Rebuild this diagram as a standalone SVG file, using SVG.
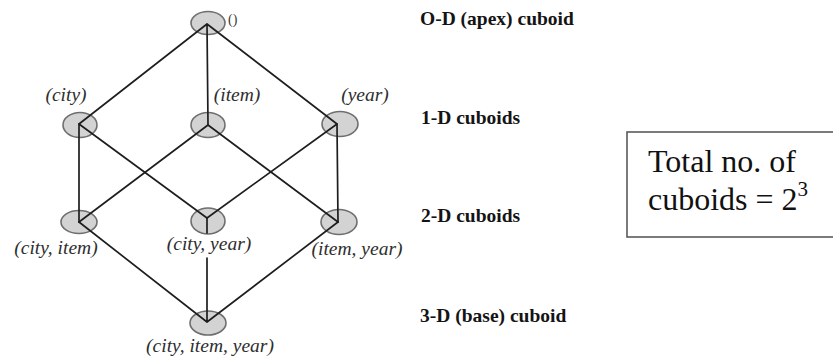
<svg xmlns="http://www.w3.org/2000/svg" width="833" height="356" viewBox="0 0 833 356">
  <style>
    .cell { fill: #d3d3d3; stroke: #6e6e6e; stroke-width: 1.6; }
    .edge { fill: none; stroke: #1e1e1e; stroke-width: 1.7; stroke-linecap: round; }
    .dim { font-style: italic; font-size: 19.5px; fill: #2e2e2e; text-anchor: middle; }
    .level { font-weight: bold; font-size: 19.5px; fill: #141414; }
    .note { font-size: 32px; fill: #111; }
  </style>
  <rect width="833" height="356" fill="#ffffff"/>

  <!-- lattice cells -->
  <g id="apex">
    <ellipse class="cell" cx="208" cy="23" rx="17" ry="11.5"/>
    <text font-family="Liberation Serif, serif" x="228" y="24" font-size="14" fill="#3a3a3a">()</text>
  </g>
  <g id="city">
    <ellipse class="cell" cx="80" cy="125" rx="17" ry="12.5"/>
    <text font-family="Liberation Serif, serif" class="dim" x="66" y="101">(city)</text>
  </g>
  <g id="item">
    <ellipse class="cell" cx="208" cy="125" rx="17" ry="12.5"/>
    <text font-family="Liberation Serif, serif" class="dim" x="237" y="101">(item)</text>
  </g>
  <g id="year">
    <ellipse class="cell" cx="340" cy="124" rx="18" ry="12.5"/>
    <text font-family="Liberation Serif, serif" class="dim" x="365" y="101">(year)</text>
  </g>
  <g id="city-item">
    <ellipse class="cell" cx="79" cy="222" rx="18" ry="11.5"/>
    <text font-family="Liberation Serif, serif" class="dim" x="56" y="254">(city, item)</text>
  </g>
  <g id="city-year">
    <ellipse class="cell" cx="208" cy="221" rx="17" ry="13"/>
    <text font-family="Liberation Serif, serif" class="dim" x="209" y="250">(city, year)</text>
  </g>
  <g id="item-year">
    <ellipse class="cell" cx="339" cy="222" rx="18" ry="12.5"/>
    <text font-family="Liberation Serif, serif" class="dim" x="357" y="255">(item, year)</text>
  </g>
  <g id="base">
    <ellipse class="cell" cx="208" cy="323" rx="18" ry="12"/>
    <text font-family="Liberation Serif, serif" class="dim" x="210" y="352">(city, item, year)</text>
  </g>

  <!-- lattice edges -->
  <g id="connectors">
    <path class="edge" d="M207,24 L79,124 M207,24 L208,125 M207,24 L337,124"/>
    <path class="edge" d="M79,124 L79,222 M79,124 L207,218"/>
    <path class="edge" d="M208,125 L79,222 M208,125 L338,222"/>
    <path class="edge" d="M337,124 L207,218 M337,124 L338,222"/>
    <path class="edge" d="M79,222 L207,322 M338,222 L207,322 M207,218 L207,233 M207,258 L207,322"/>
  </g>

  <!-- level captions -->
  <g id="levels">
    <text font-family="Liberation Serif, serif" class="level" x="420" y="25">O-D (apex) cuboid</text>
    <text font-family="Liberation Serif, serif" class="level" x="421" y="124">1-D cuboids</text>
    <text font-family="Liberation Serif, serif" class="level" x="421" y="222">2-D cuboids</text>
    <text font-family="Liberation Serif, serif" class="level" x="420" y="322">3-D (base) cuboid</text>
  </g>

  <!-- total count box -->
  <g id="total">
    <rect x="627" y="132" width="215" height="105" fill="#ffffff" stroke="#5a5a5a" stroke-width="1.6"/>
    <text font-family="Liberation Serif, serif" class="note" x="648" y="172">Total no. of</text>
    <text font-family="Liberation Serif, serif" class="note" x="648" y="210">cuboids = 2<tspan dy="-14" font-size="21">3</tspan></text>
  </g>
</svg>
